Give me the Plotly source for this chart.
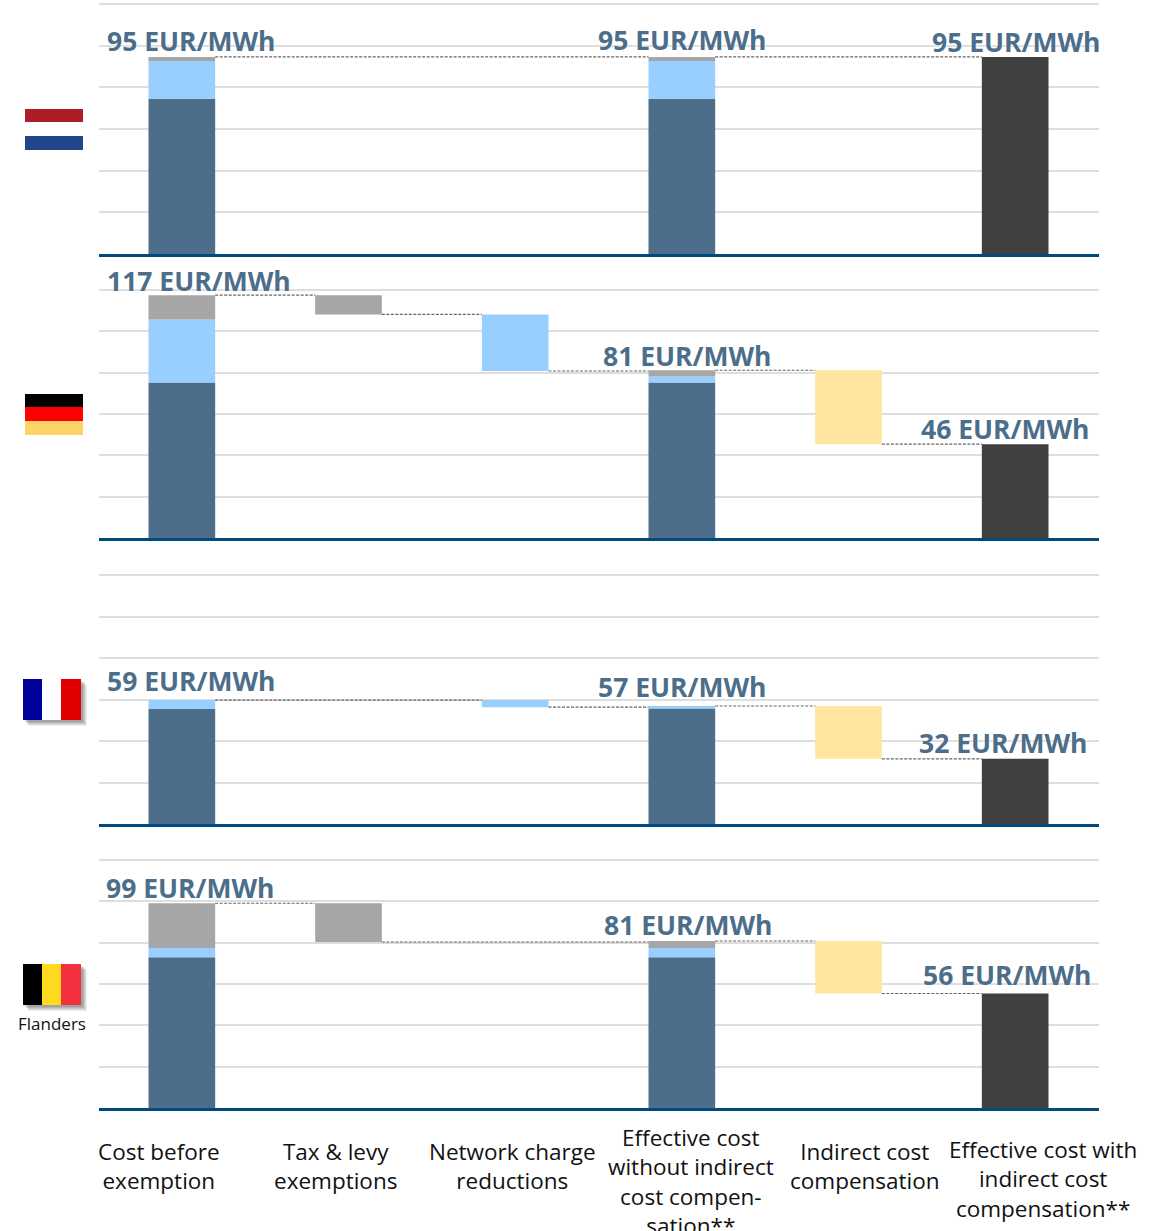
import plotly.graph_objects as go

W, H = 1163, 1231

categories = ["Cost before<br>exemption", "Tax &amp; levy<br>exemptions", "Network charge<br>reductions",
              "Effective cost<br>without indirect<br>cost compen-<br>sation**", "Indirect cost<br>compensation",
              "Effective cost with<br>indirect cost<br>compensation**"]

# Stack components of the two "cost" columns [before, after]
nl_energy = [74.5, 74.5]
nl_network = [18.2, 18.2]
nl_tax = [1.9, 1.9]
de_energy = [75.2, 75.2]
de_network = [30.5, 3.0]
de_tax = [11.8, 3.0]
fr_energy = [55.4, 55.7]
fr_network = [4.3, 1.2]
fr_tax = [0.0, 0.0]
be_energy = [73.0, 73.0]
be_network = [4.4, 4.4]
be_tax = [21.7, 3.4]

# Waterfall steps: tax & levy, network, indirect compensation
nl_steps = [0.0, 0.0, 0.0]
de_steps = [9.3, 27.4, 35.8]
fr_steps = [0.0, 3.4, 25.5]
be_steps = [18.8, 0.0, 25.4]

labels_nl = ["95 EUR/MWh", "95 EUR/MWh", "95 EUR/MWh"]
labels_de = ["117 EUR/MWh", "81 EUR/MWh", "46 EUR/MWh"]
labels_fr = ["59 EUR/MWh", "57 EUR/MWh", "32 EUR/MWh"]
labels_be = ["99 EUR/MWh", "81 EUR/MWh", "56 EUR/MWh"]

ENERGY, NETWORK, TAX, INDIRECT, FINAL = "#4C6E8A", "#99CFFF", "#A6A6A6", "#FFE59E", "#404040"
LABEL = "#4C6E8A"
FONT = "Open Sans"
BAR = 0.4

panels = [
    dict(e=nl_energy, n=nl_network, t=nl_tax, s=nl_steps, lab=labels_nl, top=4, bot=254,
         lpos=[(191, 40.5), (682.5, 39.5), (1016, 41.5)]),
    dict(e=de_energy, n=de_network, t=de_tax, s=de_steps, lab=labels_de, top=290, bot=538,
         lpos=[(199, 280.5), (687.5, 355.5), (1005, 428.5)]),
    dict(e=fr_energy, n=fr_network, t=fr_tax, s=fr_steps, lab=labels_fr, top=575, bot=824,
         lpos=[(191, 680.5), (682.5, 686.5), (1003, 742.5)]),
    dict(e=be_energy, n=be_network, t=be_tax, s=be_steps, lab=labels_be, top=860, bot=1108,
         lpos=[(190, 887.5), (688.5, 924.5), (1007, 974.5)]),
]

px = lambda x: x / W
py = lambda y: 1 - y / H

fig = go.Figure()
annotations, shapes = [], []

for k, p in enumerate(panels):
    sfx = "" if k == 0 else str(k + 1)
    xa, ya = "x" + sfx, "y" + sfx

    total0 = p["e"][0] + p["n"][0] + p["t"][0]
    total3 = p["e"][1] + p["n"][1] + p["t"][1]
    after_tax = total0 - p["s"][0]
    after_net = after_tax - p["s"][1]
    final = total3 - p["s"][2]

    # stacked cost columns
    fig.add_trace(go.Bar(x=[0, 3], y=p["e"], base=[0, 0], marker_color=ENERGY, width=BAR, xaxis=xa, yaxis=ya))
    fig.add_trace(go.Bar(x=[0, 3], y=p["n"], base=p["e"], marker_color=NETWORK, width=BAR, xaxis=xa, yaxis=ya))
    fig.add_trace(go.Bar(x=[0, 3], y=p["t"], base=[p["e"][i] + p["n"][i] for i in range(2)],
                         marker_color=TAX, width=BAR, xaxis=xa, yaxis=ya))
    # floating steps
    fig.add_trace(go.Bar(x=[1], y=[p["s"][0]], base=[after_tax], marker_color=TAX, width=BAR, xaxis=xa, yaxis=ya))
    fig.add_trace(go.Bar(x=[2], y=[p["s"][1]], base=[after_net], marker_color=NETWORK, width=BAR, xaxis=xa, yaxis=ya))
    fig.add_trace(go.Bar(x=[4], y=[p["s"][2]], base=[final], marker_color=INDIRECT, width=BAR, xaxis=xa, yaxis=ya))
    fig.add_trace(go.Bar(x=[5], y=[final], base=[0], marker_color=FINAL, width=BAR, xaxis=xa, yaxis=ya))

    # connectors: walk the visible columns
    levels = [(0, total0)]
    if p["s"][0] > 0:
        levels.append((1, after_tax))
    if p["s"][1] > 0:
        levels.append((2, after_net))
    levels.append((3, total3))
    if p["s"][2] > 0:
        levels.append((4, final))
    levels.append((5, final))
    start_lvl = [total0, total0, after_tax, after_net, total3, final]
    for (a, la), (b, _) in zip(levels[:-1], levels[1:]):
        yy = start_lvl[b] if b in (1, 2, 4) else la
        if b == 3:
            yy = la
        fig.add_trace(go.Scatter(x=[a + BAR / 2, b - BAR / 2], y=[yy, yy], mode="lines",
                                 line=dict(color="#666666", width=1.1, dash="3px,1.5px"),
                                 xaxis=xa, yaxis=ya, hoverinfo="skip"))

    # the axis runs a little past the top gridline so that line is drawn too
    y_max = 121
    span = (p["bot"] - p["top"]) * y_max / 120
    fig.update_layout(**{
        "xaxis" + sfx: dict(domain=[px(98.5), px(1098.5)], range=[-0.5, 5.5], showticklabels=False,
                            showgrid=False, zeroline=False, ticks="", showline=True,
                            linecolor="#004A80", linewidth=2.6, anchor=ya),
        "yaxis" + sfx: dict(domain=[py(p["bot"]), py(p["bot"] - span)], range=[0, y_max], dtick=20,
                            showticklabels=False, gridcolor="#DEDEDE", gridwidth=2.2,
                            zeroline=False, ticks="", anchor=xa),
    })

    for txt, (lx, ly) in zip(p["lab"], p["lpos"]):
        annotations.append(dict(text=f"<b>{txt}</b>", xref="paper", yref="paper", x=px(lx), y=py(ly),
                                xanchor="center", yanchor="middle", showarrow=False,
                                font=dict(family=FONT, size=26.5, color=LABEL, shadow="0 0 3px #ffffff")))

# category labels: anchored at the top of the first line
cat_pos = [(159, 1133.5), (335.5, 1133.5), (512, 1133.5), (691, 1119.5), (865, 1133.5), (1043, 1132)]
for txt, (lx, ly) in zip(categories, cat_pos):
    annotations.append(dict(text=txt, xref="paper", yref="paper", x=px(lx), y=py(ly), xanchor="center",
                            yanchor="top", showarrow=False, align="center",
                            font=dict(family=FONT, size=22.5, color="#111111")))
annotations.append(dict(text="Flanders", xref="paper", yref="paper", x=px(51.5), y=py(1023.5), xanchor="center",
                        yanchor="middle", showarrow=False, font=dict(family=FONT, size=17, color="#111111")))


def rect(x0, y0, x1, y1, color, opacity=1):
    shapes.append(dict(type="rect", xref="paper", yref="paper", x0=px(x0), x1=px(x1), y0=py(y0), y1=py(y1),
                       fillcolor=color, line_width=0, opacity=opacity, layer="above"))


# Netherlands
rect(25, 109, 83, 122, "#AE1C28")
rect(25, 136, 83, 150, "#21468B")
# Germany
rect(25, 394, 83, 407, "#000000")
rect(25, 407, 83, 421, "#FF0000")
rect(25, 421, 83, 435, "#FFD466")
# soft shadows for France and Belgium
for y0, y1 in [(679, 720), (964, 1005)]:
    for d, o in [(6, 0.10), (5, 0.12), (4, 0.14), (3, 0.16), (2, 0.18)]:
        rect(23 + d, y0 + d, 81 + d, y1 + d, "#555555", o)
# France
rect(23, 679, 42, 720, "#00009A")
rect(42, 679, 61, 720, "#FFFFFF")
rect(61, 679, 81, 720, "#E00000")
# Belgium
rect(23, 964, 42, 1005, "#000000")
rect(42, 964, 61, 1005, "#FFDA1E")
rect(61, 964, 81, 1005, "#F23040")

fig.update_layout(width=W, height=H, margin=dict(l=0, r=0, t=0, b=0), autosize=False,
                  barmode="overlay", showlegend=False, paper_bgcolor="white", plot_bgcolor="white",
                  annotations=annotations, shapes=shapes, font=dict(family=FONT))
fig.update_traces(marker_line_width=0, selector=dict(type="bar"))

fig.write_html("out.html", config=dict(displayModeBar=False),
               post_script="document.body.style.margin='0';document.body.style.overflow='hidden';")
